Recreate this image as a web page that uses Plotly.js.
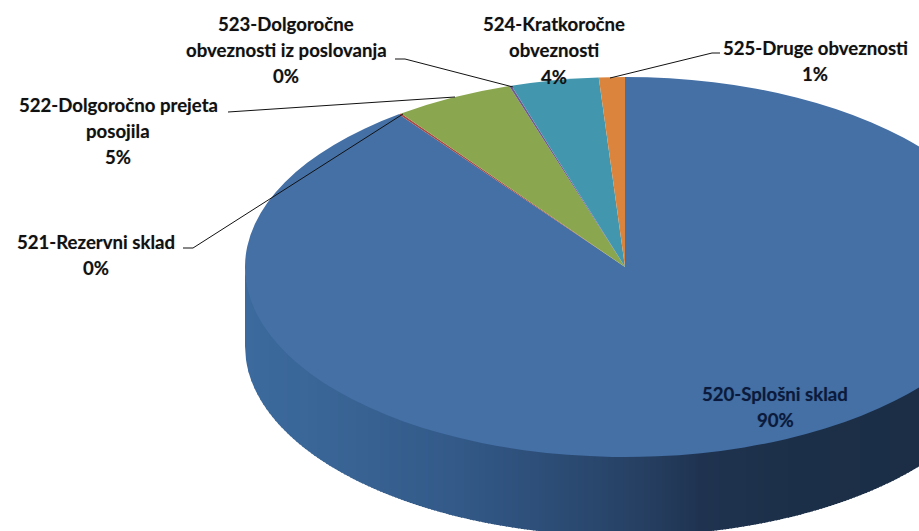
<!DOCTYPE html>
<html>
<head>
<meta charset="utf-8">
<script src="https://cdn.plot.ly/plotly-3.0.1.min.js"></script>
<style>html,body{margin:0;padding:0;background:#fff;overflow:hidden}#chart{width:919px;height:531px}</style>
</head>
<body>
<div id="chart"></div>
<script>
var categories = ["520-Splošni sklad","521-Rezervni sklad","522-Dolgoročno prejeta posojila","523-Dolgoročne obveznosti iz poslovanja","524-Kratkoročne obveznosti","525-Druge obveznosti"];
var values = [89.85, 0.12, 5.1, 0.1, 3.73, 1.1];
var sliceColors = ["#4470a6","#aa4643","#8aa64e","#71588f","#4297ae","#db843d"];

var labelLines = [
  {t:"523-Dolgoročne", x:286, y:24},
  {t:"obveznosti iz poslovanja", x:286, y:50},
  {t:"0%", x:286, y:76},
  {t:"524-Kratkoročne", x:554, y:24},
  {t:"obveznosti", x:554, y:50},
  {t:"4%", x:554, y:77},
  {t:"525-Druge obveznosti", x:815, y:48},
  {t:"1%", x:815, y:74},
  {t:"522-Dolgoročno prejeta", x:118, y:105},
  {t:"posojila", x:118, y:131},
  {t:"5%", x:118, y:157},
  {t:"521-Rezervni sklad", x:96, y:242},
  {t:"0%", x:96, y:268},
  {t:"520-Splošni sklad", x:775, y:394, c:"#0b1a3c"},
  {t:"90%", x:775, y:420, c:"#0b1a3c"}
];
var leaders = [
  [[395,59],[405,59],[513,87]],
  [[228,112],[455,97]],
  [[183,248],[193,248],[403,114]],
  [[720,53],[712,53],[610,78]]
];
var rimStops = [[245,[60,106,158]],[350,[56,99,147]],[450,[51,90,137]],[570,[43,74,114]],[650,[37,62,96]],[700,[31,51,80]],[800,[28,47,72]],[919,[27,46,70]]];

var W = 919, H = 531;
var CX = 625, CY = 267, RX = 380, RY = 190, DEPTH = 79;
function px(x){ return x / W; }
function py(y){ return 1 - y / H; }
function rimColor(x){
  for (var i = 0; i < rimStops.length - 1; i++) {
    var a = rimStops[i], b = rimStops[i+1];
    if (x <= b[0]) {
      var f = (x - a[0]) / (b[0] - a[0]);
      return "rgb(" + a[1].map(function(v,k){ return Math.round(v + (b[1][k]-v)*f); }).join(",") + ")";
    }
  }
  return "rgb(27,46,70)";
}
function edge(x){ var d = (x - CX) / RX; return CY + RY * Math.sqrt(Math.max(0, 1 - d*d)); }

var shapes = [];
// side wall, as thin overlapping strips
for (var x = CX - RX; x < W; x += 3) {
  var pts = [], sx;
  for (sx = 0; sx <= 4; sx++) pts.push([x + sx, edge(x + sx) - 4]);
  for (sx = 4; sx >= 0; sx--) pts.push([x + sx, edge(x + sx) + DEPTH]);
  shapes.push({type:"path", xref:"paper", yref:"paper", layer:"below",
    path:"M" + pts.map(function(p){ return px(p[0]) + "," + py(p[1]); }).join("L") + "Z",
    fillcolor:rimColor(x), line:{width:0}});
}
leaders.forEach(function(l){
  shapes.push({type:"path", xref:"paper", yref:"paper", layer:"above",
    path:"M" + l.map(function(p){ return px(p[0]) + "," + py(p[1]); }).join("L"),
    line:{color:"#111", width:1}});
});

var annotations = labelLines.map(function(l){
  return {text:l.t, xref:"paper", yref:"paper", x:px(l.x), y:py(l.y), xanchor:"center", yanchor:"middle", showarrow:false,
    font:{family:"Lato, sans-serif", size:18.6, weight:700, color:l.c || "#111", shadow:"0 0 1px rgba(0,0,0,0.3)"}};
});

var trace = {type:"pie", labels:categories, values:values, sort:false, direction:"clockwise", rotation:0,
  textinfo:"none", hoverinfo:"label+percent", showlegend:false,
  marker:{colors:sliceColors, line:{width:0}}, domain:{x:[0.2,0.8], y:[0,1]}};

var layout = {width:W, height:H, margin:{l:0,r:0,t:0,b:0}, paper_bgcolor:"#fff", plot_bgcolor:"#fff",
  showlegend:false, shapes:shapes, annotations:annotations};

var gd = document.getElementById("chart");
Plotly.newPlot(gd, [trace], layout, {displayModeBar:false, staticPlot:true}).then(function(){
  var c = gd.calcdata[0][0];
  var sx = RX / c.r, sy = RY / c.r;
  var g = gd.querySelector(".pielayer");
  g.setAttribute("transform", "translate(" + (CX - c.cx*sx) + "," + (CY - c.cy*sy) + ") scale(" + sx + "," + sy + ")");
});
</script>
</body>
</html>
